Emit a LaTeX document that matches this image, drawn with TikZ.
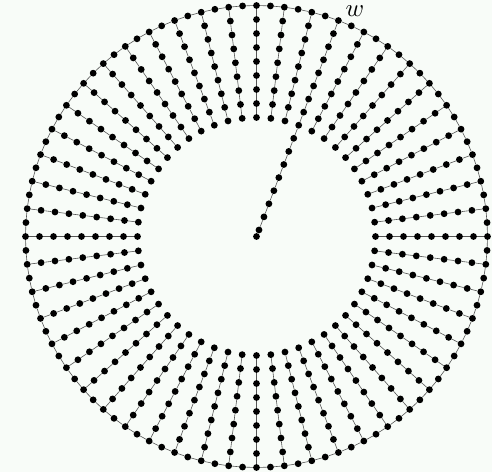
\documentclass[tikz,border=0pt]{standalone}
\usepackage{tikz}
\definecolor{bgpale}{RGB}{248,252,248}
\definecolor{edgegray}{RGB}{85,85,85}

\tikzset{
  vertex/.style={circle, fill=black, inner sep=0pt, minimum size=6.8pt},
  link/.style={edgegray, line width=0.6pt}
}

\begin{document}
\begin{tikzpicture}[x=1pt, y=1pt]
    % Frame
    \useasboundingbox[fill=bgpale] (0,0) rectangle (492,472);
    \coordinate (o) at (256.5,235.5);

    % Outer ring
    \foreach \m in {0,...,103}
        \node[vertex] (r\m) at ([shift={(\m/52*180:231)}]o) {};
    \foreach \m [evaluate=\m as \n using {int(mod(\m+1,104))}] in {0,...,103}
        \draw[link] (r\m) -- (r\n);

    % Spokes (the one at k=10 runs down to the centre)
    \foreach \k in {0,...,51} {
        \pgfmathtruncatemacro\len{\k==10 ? 16 : 8}
        \pgfmathtruncatemacro\rk{2*\k}
        \foreach \i in {1,...,\len}
            \node[vertex] (s\k-\i) at ([shift={(\k/52*360:231-14*\i)}]o) {};
        \draw[link] (r\rk) -- (s\k-1);
        \foreach \i [evaluate=\i as \j using {int(\i-1)}] in {2,...,\len}
            \draw[link] (s\k-\j) -- (s\k-\i);
    }

    % Centre
    \node[vertex] (c) at (o) {};
    \draw[link] (s10-16) -- (c);

    % Label
    \node[scale=2.5, anchor=south west, inner sep=0pt] (wlbl) at ([shift={(6.6,4)}]r20) {$w$};
\end{tikzpicture}
\end{document}
